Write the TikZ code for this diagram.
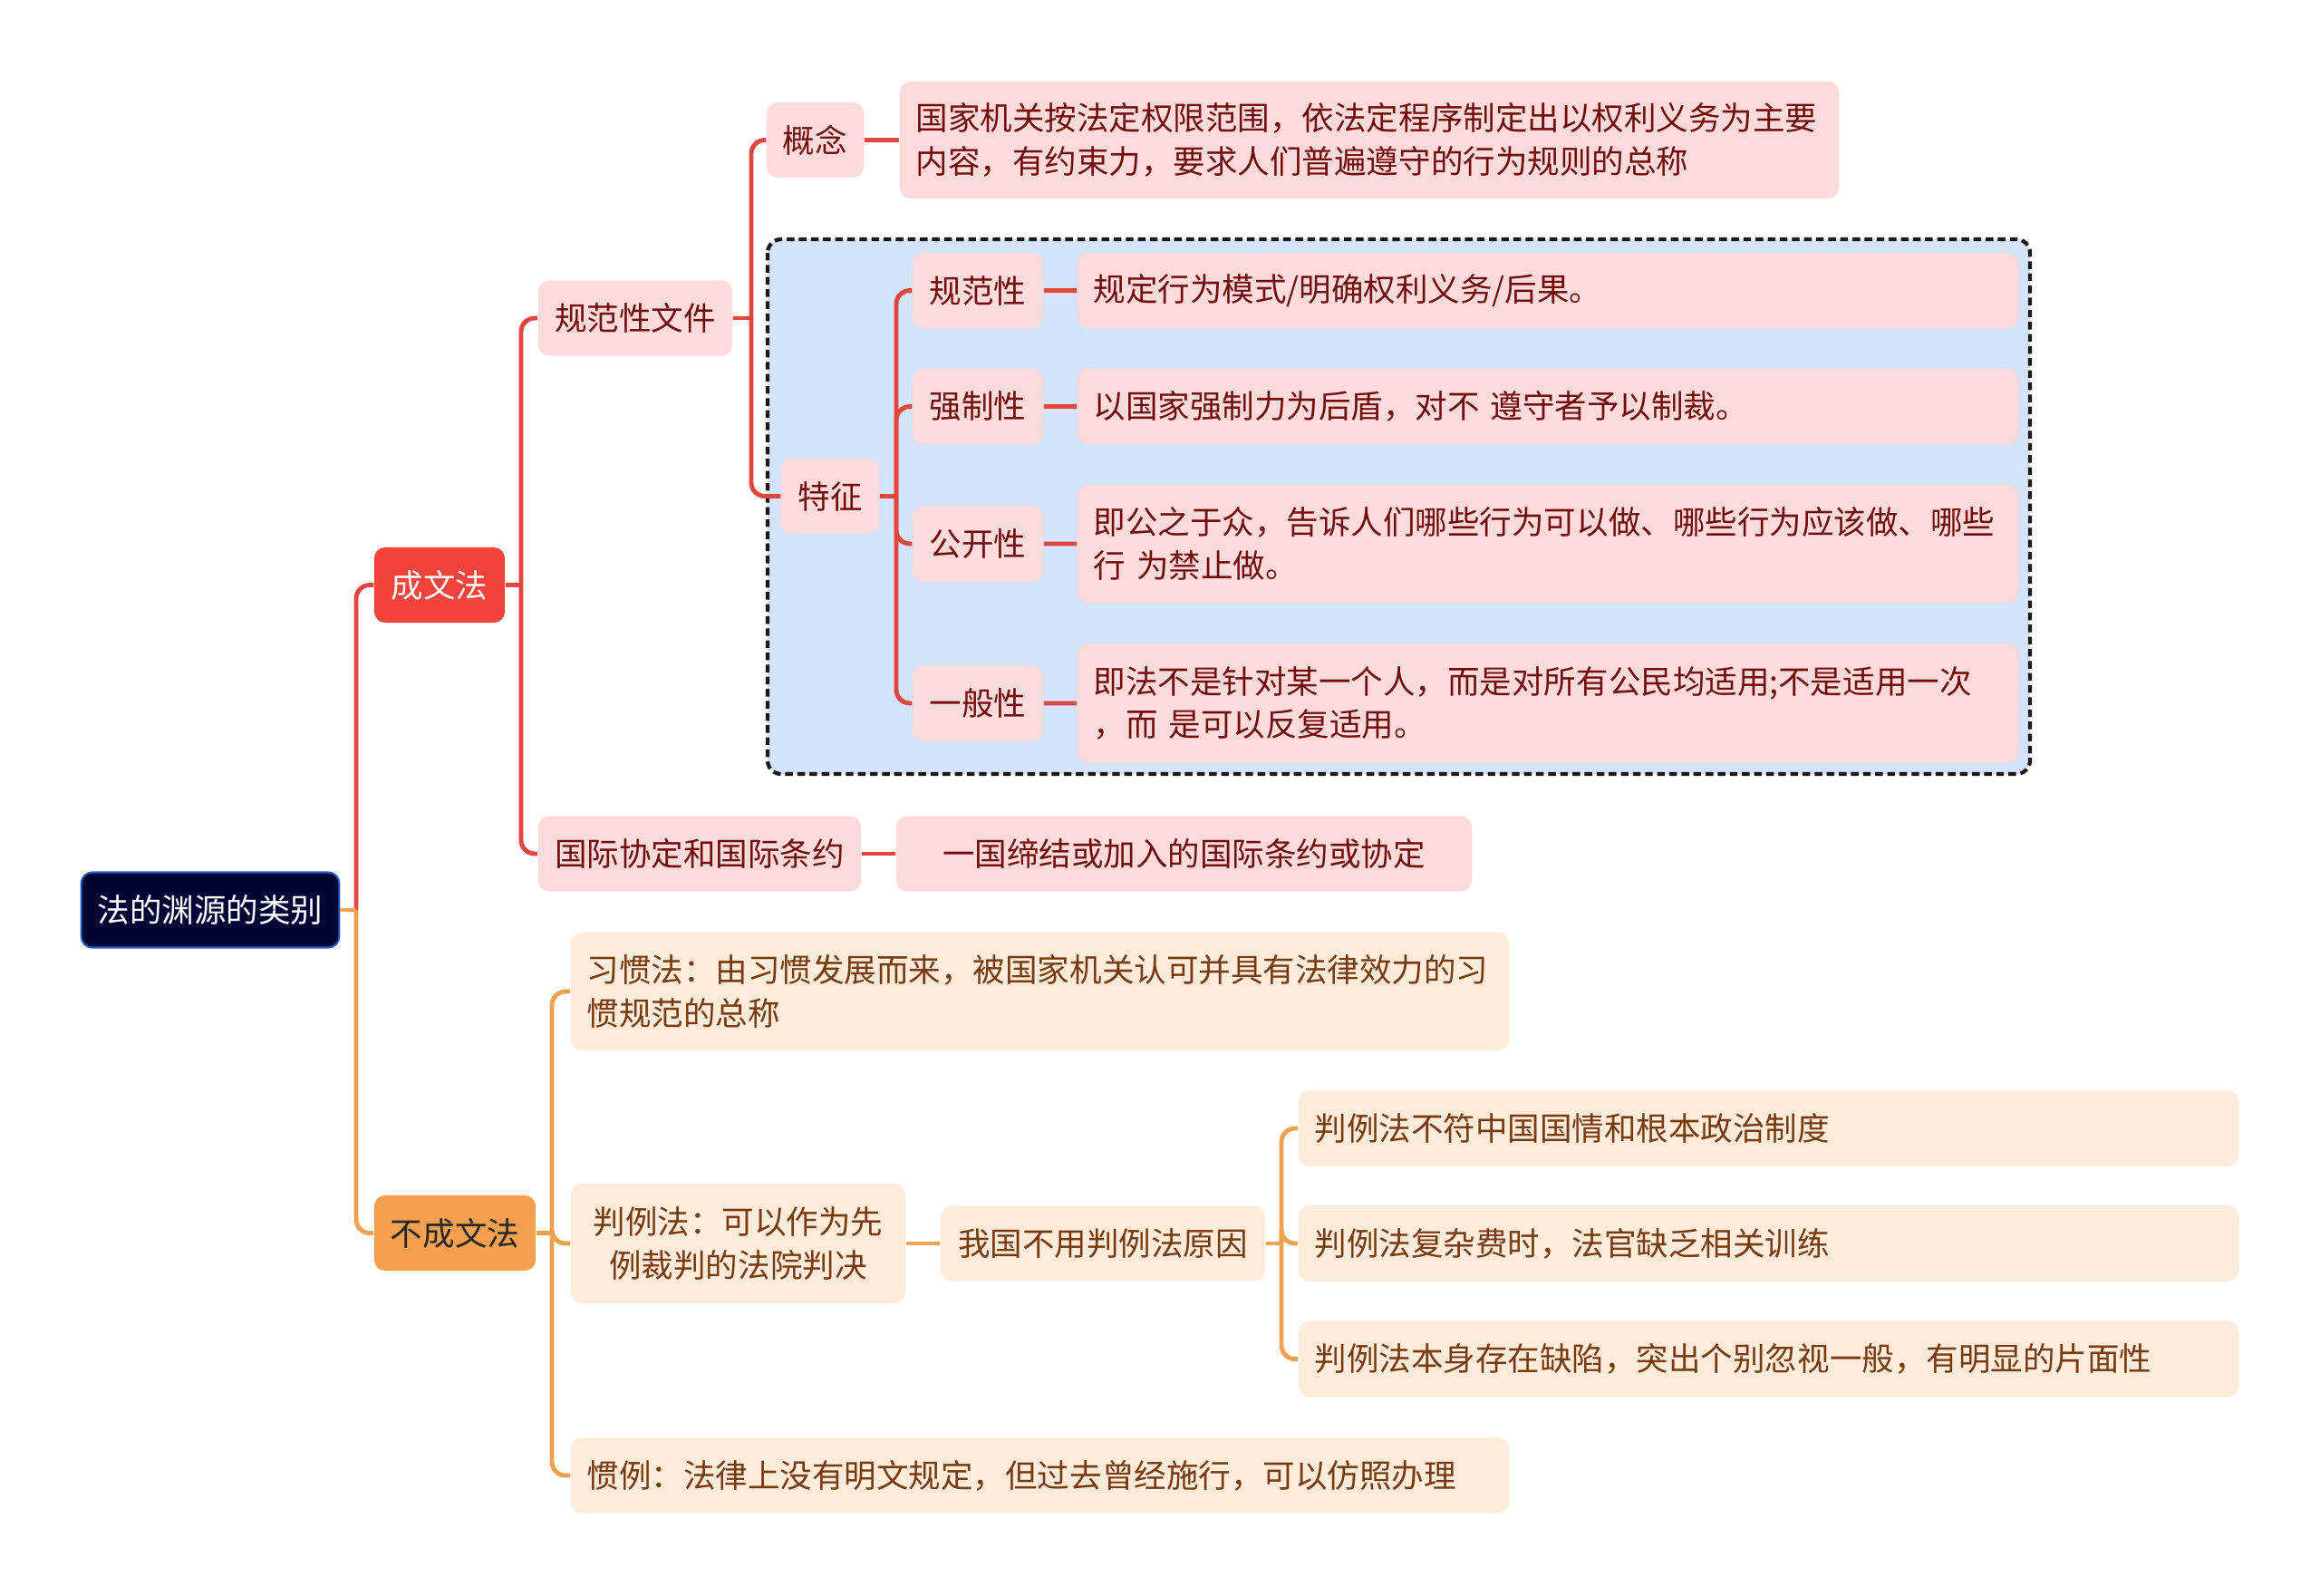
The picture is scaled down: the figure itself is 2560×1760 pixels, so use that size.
\documentclass[tikz,border=0pt]{standalone}
\usepackage{fontspec}
\newfontfamily\cjk{Noto Sans CJK SC}
\usepackage{xcolor}
\usetikzlibrary{positioning}
\definecolor{clrRoot}{HTML}{000633}
\definecolor{clrRootBd}{HTML}{2E5BBF}
\definecolor{clrRed}{HTML}{F4433C}
\definecolor{clrRedLn}{HTML}{E2463F}
\definecolor{clrOrg}{HTML}{F5A04E}
\definecolor{clrOrgLn}{HTML}{F1A150}
\definecolor{clrPink}{HTML}{FDDBDB}
\definecolor{clrPinkTx}{HTML}{700C0C}
\definecolor{clrCream}{HTML}{FDEBDC}
\definecolor{clrCreamTx}{HTML}{773A0A}
\definecolor{clrBlue}{HTML}{D5E3FB}

\begin{document}
\begin{tikzpicture}[
  x=0.01cm, y=-0.01cm,
  box/.style = {
    rectangle, rounded corners=0.12cm,
    font=\cjk\fontsize{10.1pt}{13.5pt}\selectfont,
    inner xsep=0.18cm, inner ysep=0pt,
    minimum height=0.83cm, align=left
  },
  rootbox/.style  = {box, fill=clrRoot, draw=clrRootBd, line width=0.6pt, text=white},
  redbox/.style   = {box, fill=clrRed, text=white},
  orgbox/.style   = {box, fill=clrOrg, text=black!85},
  pinkbox/.style  = {box, fill=clrPink, text=clrPinkTx},
  creambox/.style = {box, fill=clrCream, text=clrCreamTx},
  dashbox/.style  = {draw=black!90, fill=clrBlue, line width=1.2pt,
    dash pattern=on 2.4pt off 1.4pt, rounded corners=0.15cm},
  redln/.style = {draw=clrRedLn, line width=1.4pt, rounded corners=0.15cm},
  orgln/.style = {draw=clrOrgLn, line width=1.4pt, rounded corners=0.15cm}
]
  \useasboundingbox (0,0) rectangle (2560,1760);

  % frame round the features
  \draw[dashbox] (847,264) rectangle (2240,854);

  % root and first level
  \node[rootbox, minimum width=2.84cm] (root) at (232,1004)   {法的渊源的类别};
  \node[redbox,  minimum width=1.44cm] (cwf)  at (485,645.5)  {成文法};
  \node[orgbox,  minimum width=1.78cm] (bcwf) at (502,1360.5) {不成文法};

  % written law
  \node[pinkbox, minimum width=2.14cm] (gfwj)  at (701,351)    {规范性文件};
  \node[pinkbox, minimum width=3.56cm] (gjty)  at (772,942)    {国际协定和国际条约};
  \node[pinkbox, minimum width=6.35cm, align=center] (gjtyT) at (1306.5,942) {一国缔结或加入的国际条约或协定};
  \node[pinkbox, minimum width=1.07cm] (gn)    at (899.5,154.5) {概念};
  \node[pinkbox, text width=10.00cm, minimum height=1.29cm] (gnT) at (1511,154.5)
    {国家机关按法定权限范围，依法定程序制定出以权利义务为主要\\内容，有约束力，要求人们普遍遵守的行为规则的总称};
  \node[pinkbox, minimum width=1.08cm] (tz)    at (916,547.5)  {特征};

  \node[pinkbox, minimum width=1.44cm] (gfx) at (1079,320.5) {规范性};
  \node[pinkbox, minimum width=1.44cm] (qzx) at (1079,448.5) {强制性};
  \node[pinkbox, minimum width=1.44cm] (gkx) at (1079,600)   {公开性};
  \node[pinkbox, minimum width=1.44cm] (ybx) at (1079,776)   {一般性};
  \node[pinkbox, text width=10.02cm] (gfxT) at (1708,320.5) {规定行为模式/明确权利义务/后果。};
  \node[pinkbox, text width=10.02cm] (qzxT) at (1708,448.5) {以国家强制力为后盾，对不 遵守者予以制裁。};
  \node[pinkbox, text width=10.02cm, minimum height=1.30cm] (gkxT) at (1708,600)
    {即公之于众，告诉人们哪些行为可以做、哪些行为应该做、哪些\\行 为禁止做。};
  \node[pinkbox, text width=10.02cm, minimum height=1.31cm] (ybxT) at (1708,776)
    {即法不是针对某一个人，而是对所有公民均适用;不是适用一次\\，而 是可以反复适用。};

  % unwritten law
  \node[creambox, text width=9.99cm, minimum height=1.30cm] (xgf) at (1147.5,1094)
    {习惯法：由习惯发展而来，被国家机关认可并具有法律效力的习\\惯规范的总称};
  \node[creambox, minimum width=3.69cm, minimum height=1.32cm, align=center] (plf) at (814.5,1372)
    {判例法：可以作为先\\例裁判的法院判决};
  \node[creambox, minimum width=3.58cm] (why) at (1217,1372) {我国不用判例法原因};
  \node[creambox, text width=10.01cm, minimum height=0.84cm] (r1) at (1951.5,1245)   {判例法不符中国国情和根本政治制度};
  \node[creambox, text width=10.01cm, minimum height=0.84cm] (r2) at (1951.5,1372)   {判例法复杂费时，法官缺乏相关训练};
  \node[creambox, text width=10.01cm, minimum height=0.84cm] (r3) at (1951.5,1499.5) {判例法本身存在缺陷，突出个别忽视一般，有明显的片面性};
  \node[creambox, text width=9.99cm] (gl) at (1147.5,1628)
    {惯例：法律上没有明文规定，但过去曾经施行，可以仿照办理};

  % branch points
  \coordinate (sRoot) at (393,1004);
  \coordinate (sCwf)  at (575,645.5);
  \coordinate (sGfwj) at (829,351);
  \coordinate (sTz)   at (989,547.5);
  \coordinate (sBcwf) at (609,1360.5);
  \coordinate (sWhy)  at (1414,1372);

  % red branch
  \draw[redln] (sRoot) |- (cwf.west);
  \draw[redln] (cwf.east) -- (sCwf);
  \draw[redln] (sCwf) |- (gfwj.west) (sCwf) |- (gjty.west);
  \draw[redln] (gjty) -- (gjtyT);
  \draw[redln] (gfwj.east) -- (sGfwj);
  \draw[redln] (sGfwj) |- (gn.west) (sGfwj) |- (tz.west);
  \draw[redln] (gn) -- (gnT);
  \draw[redln] (tz.east) -- (sTz);
  \foreach \a/\b in {gfx/gfxT, qzx/qzxT, gkx/gkxT, ybx/ybxT}
    \draw[redln] (sTz) |- (\a.west) (\a) -- (\b);

  % orange branch
  \draw[orgln] (root.east) -- (sRoot);
  \draw[orgln] (sRoot) |- (bcwf.west);
  \draw[orgln] (bcwf.east) -- (sBcwf);
  \foreach \c in {xgf, plf, gl}
    \draw[orgln] (sBcwf) |- (\c.west);
  \draw[orgln] (plf) -- (why);
  \draw[orgln] (why.east) -- (sWhy);
  \foreach \c in {r1, r2, r3}
    \draw[orgln] (sWhy) |- (\c.west);
\end{tikzpicture}
\end{document}
